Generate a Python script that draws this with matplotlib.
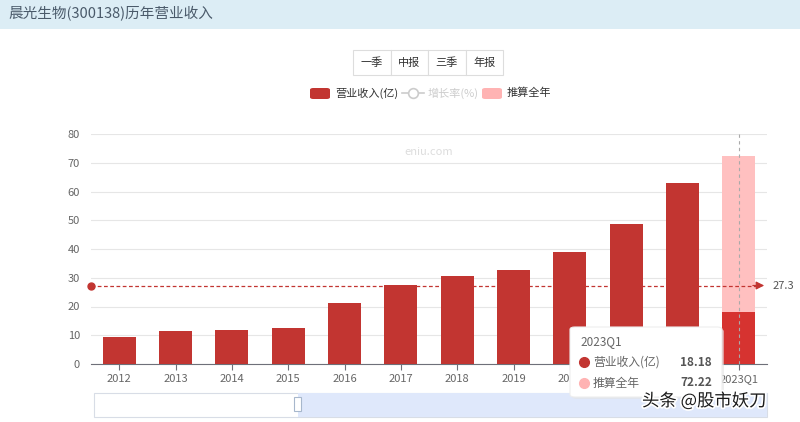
import matplotlib.pyplot as plt
import matplotlib.patheffects as pe
from matplotlib.patches import Rectangle, FancyBboxPatch
from matplotlib.lines import Line2D

plt.rcParams['font.family'] = ['Noto Sans CJK SC', 'DejaVu Sans']

# 数据
years = ["2012", "2013", "2014", "2015", "2016", "2017", "2018", "2019", "2020", "2021", "2022", "2023Q1"]
revenue = [9.4, 11.5, 11.8, 12.5, 21.2, 27.5, 30.6, 32.7, 39.0, 48.7, 63.0, 18.18]
full_year_est = 72.22
avg_value = 27.3
buttons = ["一季", "中报", "三季", "年报"]

W, H = 800, 422
fig = plt.figure(figsize=(W / 100, H / 100), dpi=100)

def fx(px):
    return px / W

def fy(py):
    return 1 - py / H

# 标题栏
fig.patches.append(Rectangle((0, fy(29)), 1, 29 / H, transform=fig.transFigure,
                             facecolor="#dcedf5", edgecolor="none", zorder=0))
fig.text(fx(8), fy(14), "晨光生物(300138)历年营业收入", fontsize=10.5, color="#4a5a6a",
         va="center", ha="left")

# 按钮
bx0, bw, by0, bh = 353, 37.5, 50, 25
for i, b in enumerate(buttons):
    fig.patches.append(Rectangle((fx(bx0 + i * bw), fy(by0 + bh)), bw / W, bh / H,
                                 transform=fig.transFigure, facecolor="white",
                                 edgecolor="#dddddd", lw=0.8))
    fig.text(fx(bx0 + i * bw + bw / 2), fy(by0 + bh / 2), b, fontsize=8, color="#333333",
             ha="center", va="center")

# 图例
fig.patches.append(FancyBboxPatch((fx(310), fy(99)), 20 / W, 11 / H, boxstyle="round,pad=0,rounding_size=0.004",
                                  transform=fig.transFigure, facecolor="#c23531", edgecolor="none"))
fig.text(fx(335), fy(93), "营业收入(亿)", fontsize=8, color="#333333", va="center")
fig.add_artist(Line2D([fx(402), fx(424)], [fy(93), fy(93)], transform=fig.transFigure,
                      color="#cccccc", lw=1.2))
fig.add_artist(Line2D([fx(413)], [fy(93)], transform=fig.transFigure, color="#cccccc",
                      marker="o", ms=7, mfc="white", mew=1.2))
fig.text(fx(428), fy(93), "增长率(%)", fontsize=8, color="#cccccc", va="center")
fig.patches.append(FancyBboxPatch((fx(482), fy(99)), 20 / W, 11 / H, boxstyle="round,pad=0,rounding_size=0.004",
                                  transform=fig.transFigure, facecolor="#ffb3b3", edgecolor="none"))
fig.text(fx(507), fy(93), "推算全年", fontsize=8, color="#333333", va="center")

# 主图
ax = fig.add_axes([fx(91), fy(364), (767 - 91) / W, (364 - 134) / H])
x = list(range(len(years)))
ax.bar(x[:-1], revenue[:-1], width=0.59, color="#c23531", zorder=3)
ax.bar(x[-1], full_year_est, width=0.59, color="#ffc0c0", zorder=2)
ax.bar(x[-1], revenue[-1], width=0.59, color="#d63330", zorder=3)

ax.set_xlim(-0.5, len(years) - 0.5)
ax.set_ylim(0, 80)
ax.set_yticks(range(0, 81, 10))
ax.set_xticks(x)
ax.set_xticklabels(years)
ax.tick_params(axis="y", length=0, labelsize=8, colors="#666666", pad=8)
ax.tick_params(axis="x", length=4, labelsize=8, colors="#666666", color="#6e7079")
ax.grid(axis="y", color="#e6e6e6", lw=0.8, zorder=0)
for s in ["top", "right", "left"]:
    ax.spines[s].set_visible(False)
ax.spines["bottom"].set_color("#6e7079")

# 平均线
ax.axhline(avg_value, xmin=0, xmax=0.985, color="#c23531", lw=0.9, ls=(0, (3, 2)), zorder=4)
ax.plot([-0.5], [avg_value], "o", color="#c23531", ms=5, clip_on=False, zorder=5)
ax.annotate("", xy=(1.0, avg_value), xycoords=("axes fraction", "data"),
            xytext=(0.975, avg_value), textcoords=("axes fraction", "data"),
            arrowprops=dict(arrowstyle="-|>", color="#c23531", lw=0.9, mutation_scale=12))
ax.text(1.008, avg_value, f"{avg_value}", transform=ax.get_yaxis_transform(),
        fontsize=8, color="#555555", va="center", ha="left")

# 十字准线
ax.axvline(x[-1], color="#aaaaaa", lw=0.8, ls=(0, (3, 3)), zorder=5)

# 水印
ax.text(0.5, 0.92, "eniu.com", transform=ax.transAxes, fontsize=8, color="#dddddd",
        ha="center", va="center")

# 数据缩放条
fig.patches.append(Rectangle((fx(94), fy(417)), (767 - 94) / W, 24 / H, transform=fig.transFigure,
                             facecolor="white", edgecolor="#d8dde6", lw=0.8))
fig.patches.append(Rectangle((fx(298), fy(417)), (767 - 298) / W, 24 / H, transform=fig.transFigure,
                             facecolor="#dfe8fb", edgecolor="none"))
fig.patches.append(Rectangle((fx(294), fy(411)), 7 / W, 14 / H, transform=fig.transFigure,
                             facecolor="white", edgecolor="#a7b7cc", lw=0.8))

# 提示框
fig.patches.append(FancyBboxPatch((fx(572), fy(399)), 152 / W, 70 / H,
                                  boxstyle="round,pad=0,rounding_size=0.006",
                                  transform=fig.transFigure, facecolor="#e4e4e4",
                                  edgecolor="none", alpha=0.6, zorder=9))
fig.patches.append(FancyBboxPatch((fx(570), fy(397)), 152 / W, 70 / H,
                                  boxstyle="round,pad=0,rounding_size=0.006",
                                  transform=fig.transFigure, facecolor="white",
                                  edgecolor="#eeeeee", lw=0.8, zorder=10))
fig.text(fx(580), fy(342), years[-1], fontsize=8.5, color="#666666", va="center", zorder=11)
fig.add_artist(Line2D([fx(584)], [fy(362)], transform=fig.transFigure, marker="o", ms=7,
                      color="#c23531", zorder=11))
fig.text(fx(593), fy(362), "营业收入(亿)", fontsize=8.5, color="#666666", va="center", zorder=11)
fig.text(fx(712), fy(362), f"{revenue[-1]:.2f}", fontsize=8.5, color="#555555",
         fontweight="bold", va="center", ha="right", zorder=11)
fig.add_artist(Line2D([fx(584)], [fy(383)], transform=fig.transFigure, marker="o", ms=7,
                      color="#ffb3b3", zorder=11))
fig.text(fx(593), fy(383), "推算全年", fontsize=8.5, color="#666666", va="center", zorder=11)
fig.text(fx(712), fy(383), f"{full_year_est:.2f}", fontsize=8.5, color="#555555",
         fontweight="bold", va="center", ha="right", zorder=11)

# 头条水印
fig.text(fx(642), fy(401), "头条 @股市妖刀", fontsize=12.5, color="#1a1a1a", va="center", zorder=12,
         path_effects=[pe.withStroke(linewidth=2.5, foreground="white")])

fig.savefig("out.png", dpi=100)
